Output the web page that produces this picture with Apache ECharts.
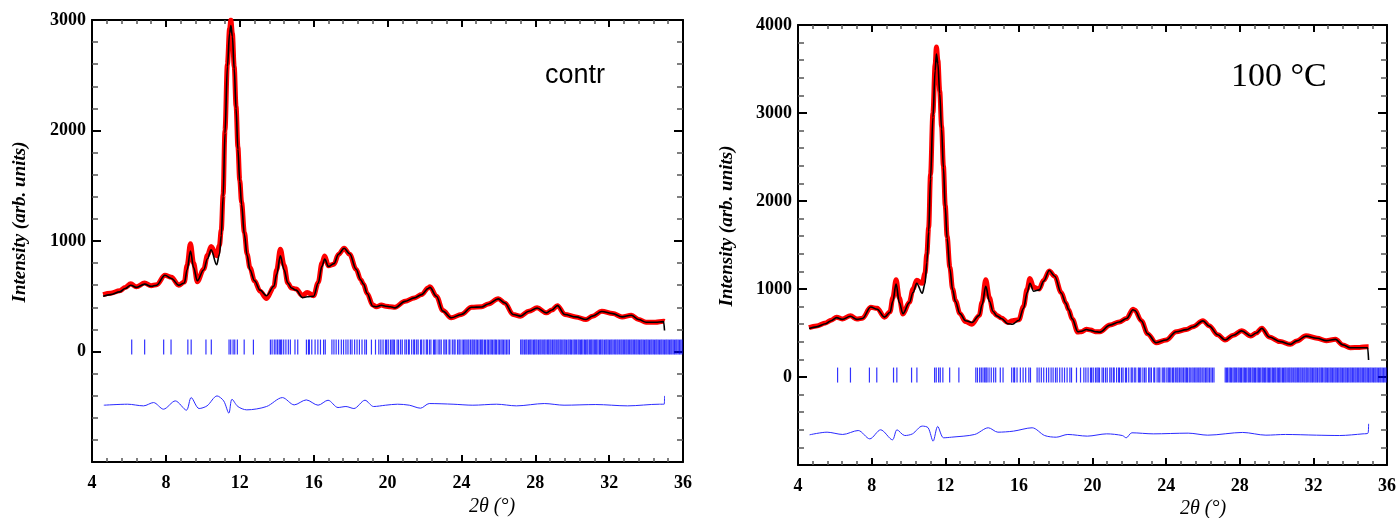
<!DOCTYPE html>
<html>
<head>
<meta charset="utf-8">
<title>XRD Rietveld – contr / 100 °C</title>
<script src="https://cdn.jsdelivr.net/npm/echarts@6/dist/echarts.min.js"></script>
<style>
  html, body { margin: 0; padding: 0; background: #fff; }
  #chart { width: 1399px; height: 518px; }
</style>
</head>
<body>
<div id="chart"></div>
<script>
// 2theta grid shared by observed / calculated profiles
const twoTheta = [
  4.6, 5.0, 5.5, 5.8, 6.1, 6.4, 6.85, 7.2, 7.5, 7.95,
  8.3, 8.7, 9.0, 9.15, 9.33, 9.5, 9.7, 10.05, 10.25, 10.45,
  10.75, 10.9, 11.0, 11.1, 11.2, 11.33, 11.45, 11.52, 11.6, 11.7,
  11.8, 11.9, 12.0, 12.1, 12.25, 12.4, 12.55, 12.8, 13.1, 13.45,
  13.85, 14.0, 14.2, 14.4, 14.6, 14.8, 15.05, 15.4, 15.65, 16.0,
  16.25, 16.45, 16.6, 16.8, 17.1, 17.35, 17.65, 17.95, 18.3, 18.55,
  18.7, 18.9, 19.2, 19.4, 19.67, 19.9, 20.15, 20.4, 20.95, 21.45,
  21.85, 22.2, 22.3, 22.65, 23.0, 23.45, 24.0, 24.55, 25.1, 25.45,
  26.0, 26.35, 26.8, 27.2, 27.65, 28.1, 28.6, 28.9, 29.2, 29.6,
  30.2, 30.75, 31.1, 31.6, 32.2, 32.7, 33.2, 33.6, 34.0, 34.5,
  34.95, 35.0
]

// contr
const obsContr = [
  515, 527, 550, 580, 612, 585, 620, 595, 605, 690,
  672, 600, 630, 780, 975, 800, 632, 745, 870, 950,
  866, 960, 1100, 1420, 2000, 2600, 2920, 3000, 2880, 2580,
  2220, 1850, 1550, 1350, 1080, 880, 760, 640, 545, 480,
  585, 740, 925, 780, 620, 575, 565, 505, 535, 505,
  625, 800, 865, 775, 790, 880, 935, 880, 745, 650,
  610, 525, 420, 405, 420, 410, 405, 400, 455, 485,
  515, 575, 585, 500, 370, 305, 335, 400, 405, 430,
  478, 440, 335, 320, 365, 395, 350, 375, 415, 335,
  313, 289, 320, 364, 343, 313, 328, 290, 265, 265,
  274, 272
]
const calcContr = [
  500, 515, 540, 570, 600, 580, 610, 590, 600, 690,
  660, 600, 620, 740, 910, 760, 640, 740, 840, 920,
  785, 880, 1050, 1400, 1975, 2577, 2880, 2950, 2850, 2560,
  2200, 1830, 1540, 1330, 1060, 870, 740, 640, 555, 505,
  590, 700, 865, 740, 620, 575, 555, 488, 495, 500,
  620, 770, 836, 770, 795, 880, 935, 885, 745, 650,
  610, 525, 410, 405, 418, 410, 405, 395, 454, 485,
  515, 570, 580, 500, 365, 305, 335, 400, 403, 430,
  476, 440, 335, 320, 364, 394, 350, 375, 415, 335,
  313, 290, 320, 362, 343, 313, 328, 290, 265, 265,
  270, 190
]
const diffXContr = [
  4.64, 5.93, 6.79, 7.33, 7.87, 8.51, 9.11, 9.37, 9.80, 10.23,
  10.77, 11.13, 11.41, 11.58, 11.90, 12.38, 13.45, 14.31, 14.95, 15.60,
  16.24, 16.78, 17.32, 17.75, 18.18, 18.78, 19.25, 19.90, 20.54, 21.18,
  21.79, 22.26, 23.55, 24.62, 25.91, 26.98, 28.49, 29.56, 31.28, 33.0,
  34.72, 34.98, 35.0
]
const diffContr = [
  -486, -477, -492, -462, -522, -447, -531, -417, -516, -492,
  -402, -447, -558, -432, -498, -528, -498, -417, -483, -438,
  -486, -441, -507, -498, -516, -441, -498, -486, -477, -486,
  -513, -471, -477, -486, -477, -492, -471, -486, -480, -492,
  -477, -477, -402
]

// 100 °C
const obs100 = [
  560, 580, 615, 645, 680, 660, 695, 658, 668, 792,
  780, 680, 742, 900, 1105, 900, 716, 850, 1000, 1100,
  1064, 1180, 1400, 1700, 2300, 3000, 3550, 3750, 3600, 3250,
  2850, 2400, 1950, 1600, 1250, 1000, 870, 720, 630, 600,
  700, 850, 1105, 900, 740, 700, 670, 620, 640, 650,
  800, 1000, 1120, 1020, 1000, 1100, 1205, 1145, 960, 840,
  765, 660, 510, 515, 542, 534, 515, 515, 590, 625,
  665, 770, 760, 640, 490, 390, 420, 515, 540, 570,
  640, 580, 480, 420, 475, 526, 466, 500, 555, 455,
  402, 371, 410, 470, 440, 413, 428, 365, 333, 335,
  345, 345
]
const calc100 = [
  550, 570, 605, 640, 675, 655, 690, 655, 665, 795,
  770, 680, 735, 860, 1057, 850, 720, 845, 960, 1064,
  951, 1060, 1300, 1650, 2250, 2950, 3480, 3670, 3560, 3220,
  2820, 2380, 1930, 1580, 1230, 990, 860, 720, 640, 620,
  700, 820, 1030, 860, 745, 695, 665, 605, 600, 645,
  780, 960, 1064, 975, 990, 1090, 1210, 1145, 955, 840,
  765, 660, 515, 520, 540, 530, 515, 510, 590, 625,
  665, 765, 755, 640, 490, 390, 420, 515, 538, 568,
  638, 578, 480, 420, 475, 524, 466, 500, 553, 455,
  402, 371, 410, 465, 440, 413, 428, 365, 333, 333,
  333, 193
]
const diffX100 = [
  4.63, 5.58, 6.43, 7.27, 7.90, 8.49, 9.13, 9.38, 9.80, 10.22,
  10.75, 11.07, 11.34, 11.59, 11.91, 12.33, 13.60, 14.34, 14.86, 15.71,
  16.72, 17.40, 18.03, 18.66, 19.72, 20.77, 21.62, 21.83, 22.14, 23.30,
  25.2, 26.26, 28.16, 29.42, 30.48, 32.16, 33.43, 34.70, 34.97, 35.0
]
const diff100 = [
  -657, -627, -653, -608, -703, -600, -714, -600, -665, -646,
  -558, -577, -729, -562, -691, -684, -653, -577, -627, -615,
  -577, -665, -684, -653, -672, -646, -665, -691, -634, -646,
  -638, -661, -630, -661, -653, -661, -665, -646, -638, -532
]

// Bragg reflection positions (2theta)
const braggPos = [
  6.15, 6.85, 7.88, 8.28, 9.19, 9.37, 10.17, 10.46, 11.42, 11.51,
  11.64, 11.73, 11.87, 12.24, 12.74, 13.66, 13.75, 13.87, 13.96, 14.05,
  14.14, 14.21, 14.27, 14.38, 14.50, 14.63, 14.74, 14.99, 15.14, 15.61,
  15.72, 15.77, 15.90, 16.08, 16.23, 16.37, 16.54, 16.63, 16.99, 17.10,
  17.22, 17.35, 17.50, 17.62, 17.75, 17.86, 17.99, 18.08, 18.22, 18.35,
  18.48, 18.62, 18.77, 18.86, 19.13, 19.35, 19.53, 19.64, 19.76, 19.89,
  19.95, 20.04, 20.16, 20.24, 20.31, 20.38, 20.52, 20.60, 20.71, 20.80,
  20.94, 21.02, 21.13, 21.18, 21.31, 21.42, 21.47, 21.58, 21.66, 21.79,
  21.85, 21.97, 22.10, 22.16, 22.27, 22.35, 22.49, 22.55, 22.62, 22.74,
  22.83, 22.91, 23.05, 23.12, 23.20, 23.33, 23.38, 23.51, 23.60, 23.66,
  23.79, 23.87, 23.93, 24.04, 24.12, 24.19, 24.26, 24.35, 24.41, 24.50,
  24.58, 24.64, 24.72, 24.80, 24.87, 24.95, 25.03, 25.10, 25.16, 25.25,
  25.31, 25.40, 25.47, 25.55, 25.62, 25.69, 25.77, 25.84, 25.90, 25.99,
  26.06, 26.14, 26.21, 26.28, 26.36, 26.44, 26.52, 26.60, 27.21, 27.28,
  27.34, 27.42, 27.49, 27.55, 27.63, 27.70, 27.76, 27.83, 27.91, 27.97,
  28.04, 28.10, 28.18, 28.25, 28.31, 28.38, 28.46, 28.52, 28.59, 28.67,
  28.73, 28.80, 28.86, 28.94, 29.01, 29.07, 29.14, 29.22, 29.28, 29.35,
  29.41, 29.49, 29.56, 29.62, 29.69, 29.77, 29.83, 29.90, 29.96, 30.04,
  30.11, 30.17, 30.24, 30.32, 30.38, 30.45, 30.51, 30.58, 30.66, 30.72,
  30.79, 30.85, 30.93, 31.00, 31.06, 31.13, 31.20, 31.27, 31.33, 31.40,
  31.48, 31.54, 31.61, 31.67, 31.75, 31.82, 31.88, 31.95, 32.02, 32.09,
  32.15, 32.22, 32.30, 32.36, 32.43, 32.49, 32.57, 32.64, 32.70, 32.77,
  32.84, 32.91, 32.97, 33.04, 33.11, 33.18, 33.24, 33.31, 33.38, 33.45,
  33.51, 33.58, 33.65, 33.72, 33.78, 33.85, 33.92, 33.99, 34.05, 34.12,
  34.19, 34.26, 34.32, 34.39, 34.46, 34.53, 34.59, 34.66, 34.73, 34.80,
  34.86, 34.93, 35.00, 35.07, 35.13, 35.20, 35.27, 35.34, 35.40, 35.47,
  35.54, 35.61, 35.67, 35.74, 35.81, 35.88, 35.95
]

const xTicks = [4, 36, 4]          // min, max, interval
const yRangeContr = [-1000, 3000, 1000]
const yRange100 = [-1000, 4000, 1000]

const SERIF = '"Liberation Serif", "Times New Roman", serif'

function pairs(xs, ys) {
  return xs.map((x, i) => [x, ys[i]])
}

function xAxisOf(gridIndex, position) {
  return {
    type: 'value', gridIndex: gridIndex, position: position,
    min: xTicks[0], max: xTicks[1], interval: xTicks[2],
    axisLine: { onZero: false, lineStyle: { color: '#000', width: 2 } },
    axisTick: { inside: true, length: 7, lineStyle: { color: '#000', width: 2 } },
    minorTick: { show: true, splitNumber: 5, length: 4, lineStyle: { color: '#555', width: 1.5 } },
    axisLabel: {
      show: position === 'bottom', color: '#000', fontFamily: SERIF,
      fontWeight: 'bold', fontSize: 18, margin: 12
    },
    splitLine: { show: false }
  }
}

function yAxisOf(gridIndex, position, range) {
  return {
    type: 'value', gridIndex: gridIndex, position: position,
    min: range[0], max: range[1], interval: range[2],
    axisLine: { onZero: false, lineStyle: { color: '#000', width: 2 } },
    axisTick: { inside: true, length: 9, lineStyle: { color: '#000', width: 2 } },
    minorTick: { show: true, splitNumber: 5, length: 6, lineStyle: { color: '#555', width: 1.5 } },
    axisLabel: {
      show: position === 'left', color: '#000', fontFamily: SERIF,
      fontWeight: 'bold', fontSize: 18, margin: 6,
      formatter: v => (v < 0 ? '' : String(v))
    },
    splitLine: { show: false }
  }
}

function panelSeries(idx, obs, calc, diffX, diff, braggLevel) {
  const xi = idx * 2
  const yi = idx * 2
  return [
    {
      type: 'line', xAxisIndex: xi, yAxisIndex: yi, silent: true,
      data: pairs(twoTheta, obs), showSymbol: false,
      smooth: 0.35, smoothMonotone: 'x',
      lineStyle: { color: '#ff0000', width: 5 }, z: 2
    },
    {
      type: 'line', xAxisIndex: xi, yAxisIndex: yi, silent: true,
      data: pairs(twoTheta, calc), showSymbol: false,
      smooth: 0.35, smoothMonotone: 'x',
      lineStyle: { color: '#000', width: 1.6 }, z: 3
    },
    {
      type: 'scatter', xAxisIndex: xi, yAxisIndex: yi, silent: true,
      data: braggPos.map(x => [x, braggLevel]),
      symbol: 'rect', symbolSize: [1.2, 15],
      itemStyle: { color: '#0000ff' }, z: 2
    },
    {
      type: 'line', xAxisIndex: xi, yAxisIndex: yi, silent: true,
      data: pairs(diffX, diff), showSymbol: false,
      smooth: 0.3,
      lineStyle: { color: '#2a2aff', width: 1 }, z: 2
    }
  ]
}

const chart = echarts.init(document.getElementById('chart'))
chart.setOption({
  animation: false,
  backgroundColor: '#fff',
  grid: [
    { left: 92, right: 716, top: 20, bottom: 56 },
    { left: 798, right: 12, top: 25, bottom: 53 }
  ],
  xAxis: [
    xAxisOf(0, 'bottom'), xAxisOf(0, 'top'),
    xAxisOf(1, 'bottom'), xAxisOf(1, 'top')
  ],
  yAxis: [
    yAxisOf(0, 'left', yRangeContr), yAxisOf(0, 'right', yRangeContr),
    yAxisOf(1, 'left', yRange100), yAxisOf(1, 'right', yRange100)
  ],
  series: [
    ...panelSeries(0, obsContr, calcContr, diffXContr, diffContr, 40),
    ...panelSeries(1, obs100, calc100, diffX100, diff100, 22)
  ],
  graphic: [
    {
      type: 'text', x: 20, y: 222, rotation: Math.PI / 2,
      style: {
        text: 'Intensity (arb. units)', fill: '#000',
        font: 'italic bold 19px ' + SERIF, textAlign: 'center', textVerticalAlign: 'middle'
      }
    },
    {
      type: 'text', x: 727, y: 226, rotation: Math.PI / 2,
      style: {
        text: 'Intensity (arb. units)', fill: '#000',
        font: 'italic bold 19px ' + SERIF, textAlign: 'center', textVerticalAlign: 'middle'
      }
    },
    {
      type: 'text', x: 492, y: 507,
      style: {
        text: '2θ (°)', fill: '#000',
        font: 'italic 20px ' + SERIF, textAlign: 'center', textVerticalAlign: 'middle'
      }
    },
    {
      type: 'text', x: 1203, y: 509,
      style: {
        text: '2θ (°)', fill: '#000',
        font: 'italic 20px ' + SERIF, textAlign: 'center', textVerticalAlign: 'middle'
      }
    },
    {
      type: 'text', x: 545, y: 76,
      style: {
        text: 'contr', fill: '#000',
        font: '27px "Liberation Sans", "Open Sans", sans-serif', textAlign: 'left', textVerticalAlign: 'middle'
      }
    },
    {
      type: 'text', x: 1231, y: 77,
      style: {
        text: '100 °C', fill: '#000',
        font: '34px ' + SERIF, textAlign: 'left', textVerticalAlign: 'middle'
      }
    }
  ]
})
</script>
</body>
</html>
